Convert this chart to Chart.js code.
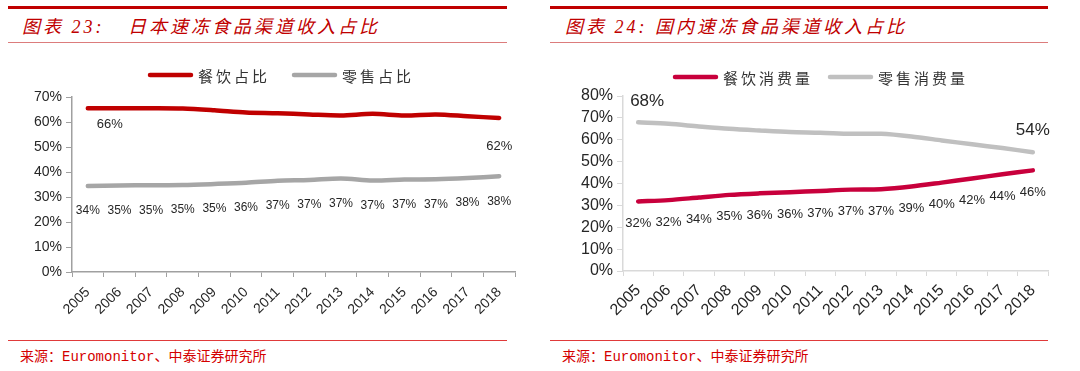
<!DOCTYPE html>
<html lang="zh">
<head>
<meta charset="UTF-8">
<title>速冻食品渠道收入占比</title>
<style>
  html, body { margin: 0; padding: 0; background: #fff; }
  body { width: 1080px; height: 371px; position: relative; overflow: hidden; }
  .bar { position: absolute; background: #c00000; height: 3px; top: 6px; }
  .thin { position: absolute; height: 1px; top: 42px; background: #dc7c7c; }
  .foot { position: absolute; height: 1px; top: 340px; background: #e03a3a; }
  .title { position: absolute; top: 17px; line-height: 20px; font-size: 18px; color: #c00000;
           font-style: italic; letter-spacing: 3px; white-space: nowrap;
           font-family: "Liberation Serif", "Noto Sans CJK SC", serif; }
  .src { position: absolute; top: 348px; font-size: 14px; line-height: 18px; color: #d40000; white-space: nowrap;
         font-family: "Liberation Mono", "Noto Sans CJK SC", monospace; }
  canvas { position: absolute; top: 48px; }
</style>
</head>
<body>
  <div class="bar" style="left:8px;width:499px"></div>
  <div class="title" style="left:22px">图表 23:</div>
  <div class="title" style="left:128px">日本速冻食品渠道收入占比</div>
  <div class="thin" style="left:8px;width:499px"></div>
  <canvas id="jp" width="540" height="292" style="left:0px"></canvas>
  <div class="foot" style="left:8px;width:499px"></div>
  <div class="src" style="left:20px">来源：Euromonitor、中泰证券研究所</div>

  <div class="bar" style="left:550px;width:498px"></div>
  <div class="title" style="left:565px">图表 24:</div>
  <div class="title" style="left:655px">国内速冻食品渠道收入占比</div>
  <div class="thin" style="left:550px;width:498px"></div>
  <canvas id="cn" width="540" height="292" style="left:540px"></canvas>
  <div class="foot" style="left:550px;width:498px"></div>
  <div class="src" style="left:562px">来源：Euromonitor、中泰证券研究所</div>

<script src="https://cdn.jsdelivr.net/npm/chart.js"></script>
<script>
// 年份
const years = ['2005', '2006', '2007', '2008', '2009', '2010', '2011', '2012', '2013', '2014', '2015', '2016', '2017', '2018'];

// 图表23 日本
const jpCatering = [65.5, 65.5, 65.5, 65.4, 64.7, 63.8, 63.5, 63.0, 62.6, 63.3, 62.6, 63.0, 62.3, 61.6];
const jpRetail = [34.4, 34.6, 34.7, 34.8, 35.2, 35.7, 36.5, 36.8, 37.4, 36.6, 37.0, 37.1, 37.6, 38.3];
const jpYMax = 70;

// 图表24 国内
const cnCatering = [31.8, 32.4, 33.6, 34.8, 35.5, 36.0, 36.6, 37.2, 37.4, 38.6, 40.4, 42.3, 44.2, 46.0];
const cnRetail = [68.0, 67.3, 66.1, 65.0, 64.2, 63.5, 63.2, 62.7, 62.7, 61.5, 59.7, 57.9, 56.2, 54.3];
const cnYMax = 80;

const sans = '"Liberation Sans", Arial, sans-serif';
const cjk = '"Noto Sans CJK SC", sans-serif';

// 数据标签
const pointLabels = {
  id: 'pointLabels',
  afterDatasetsDraw(chart, args, opts) {
    const ctx = chart.ctx;
    (opts.items || []).forEach(it => {
      const meta = chart.getDatasetMeta(it.dataset);
      const data = chart.data.datasets[it.dataset].data;
      ctx.save();
      ctx.font = it.font;
      ctx.fillStyle = opts.color;
      ctx.textAlign = 'center';
      ctx.textBaseline = 'middle';
      meta.data.forEach((pt, i) => {
        if (it.only && !it.only.includes(i)) return;
        const off = (it.offsets && it.offsets[i]) || [0, it.dy];
        ctx.fillText(Math.round(data[i]) + '%', pt.x + off[0], pt.y + off[1]);
      });
      ctx.restore();
    });
  }
};

// 图例（线段 + 文字）
const lineLegend = {
  id: 'lineLegend',
  afterDraw(chart, args, opts) {
    const ctx = chart.ctx;
    chart.data.datasets.forEach((ds, i) => {
      const x = opts.starts[i], y = opts.y;
      ctx.save();
      ctx.strokeStyle = ds.borderColor;
      ctx.lineWidth = 4.5;
      ctx.lineCap = 'round';
      ctx.beginPath();
      ctx.moveTo(x + 2, y);
      ctx.lineTo(x + opts.boxWidth - 2, y);
      ctx.stroke();
      ctx.font = opts.font;
      ctx.fillStyle = opts.color;
      ctx.textBaseline = 'middle';
      ctx.letterSpacing = opts.spacing;
      ctx.fillText(ds.label, x + opts.boxWidth + opts.gap, y + 1);
      ctx.restore();
    });
  }
};

function lineDs(label, data, color) {
  return {
    label: label, data: data, borderColor: color, backgroundColor: color,
    borderWidth: 4.5, pointRadius: 0, tension: 0.3, borderCapStyle: 'round', fill: false
  };
}

function makeChart(id, ds, yMax, o) {
  return new Chart(document.getElementById(id), {
    type: 'line',
    data: { labels: years, datasets: ds },
    plugins: [pointLabels, lineLegend],
    options: {
      responsive: false,
      animation: false,
      devicePixelRatio: 1,
      layout: { padding: { top: o.top, right: o.right, left: 0, bottom: 0 } },
      plugins: {
        legend: { display: false },
        tooltip: { enabled: false },
        lineLegend: o.legend,
        pointLabels: { color: '#262626', items: o.labels }
      },
      scales: {
        x: {
          offset: true,
          grid: { offset: true, drawOnChartArea: false, color: o.axis, tickLength: 5 },
          border: { color: o.axis, width: 1.5 },
          ticks: { autoSkip: false, minRotation: 45, maxRotation: 45, color: '#262626', padding: o.xPad,
                   font: { family: sans, size: o.xFont } },
          afterFit: s => { s.height = o.xHeight; }
        },
        y: {
          min: 0, max: yMax,
          grid: { drawOnChartArea: false, color: o.axis, tickLength: 6 },
          border: { color: o.axis, width: 1.5 },
          ticks: { autoSkip: false, stepSize: 10, color: '#262626', padding: 4,
                   font: { family: sans, size: o.yFont },
                   callback: v => v + '%' },
          afterFit: s => { s.width = o.yWidth; }
        }
      }
    }
  });
}

makeChart('jp', [
  lineDs('餐饮占比', jpCatering, '#c00000'),
  lineDs('零售占比', jpRetail, '#a6a6a6')
], jpYMax, {
  top: 49, right: 25, yWidth: 72, xHeight: 68, xPad: 7, axis: '#a0a0a0', xFont: 14, yFont: 14,
  legend: { starts: [148, 292], y: 27, boxWidth: 45, gap: 5, font: '15px ' + cjk, color: '#333', spacing: '3px' },
  labels: [
    { dataset: 0, only: [0, 13], font: '13px ' + sans, offsets: { 0: [22, 16], 13: [0, 28] } },
    { dataset: 1, font: '12px ' + sans, dy: 25 }
  ]
});

makeChart('cn', [
  lineDs('餐饮消费量', cnCatering, '#c8003c'),
  lineDs('零售消费量', cnRetail, '#c0c0c0')
], cnYMax, {
  top: 48, right: 32, yWidth: 83, xHeight: 69, xPad: 5, axis: '#d9d9d9', xFont: 16, yFont: 16,
  legend: { starts: [133, 288], y: 29, boxWidth: 45, gap: 5, font: '15px ' + cjk, color: '#333', spacing: '3px' },
  labels: [
    { dataset: 0, font: '13px ' + sans, dy: 22 },
    { dataset: 1, only: [0, 13], font: '17px ' + sans, offsets: { 0: [9, -21], 13: [0, -22] } }
  ]
});
</script>
</body>
</html>
